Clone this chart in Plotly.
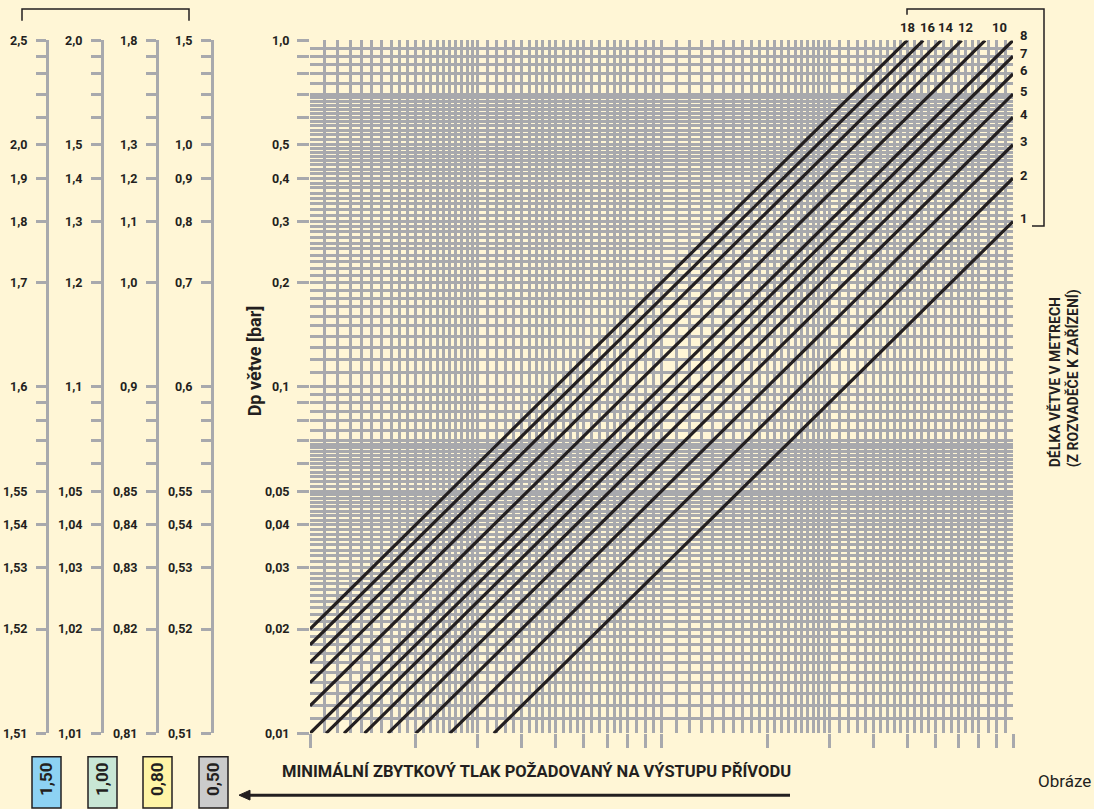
import math
import plotly.graph_objects as go

W, H = 1094, 809

# ---------------- data ----------------
lengths = [1, 2, 3, 4, 5, 6, 7, 8, 10, 12, 14, 16, 18]            # branch length [m]
dp_at_unit_flow = [0.0030, 0.0040, 0.0050, 0.0060, 0.0070, 0.0080, 0.0090,
                   0.0100, 0.0120, 0.0140, 0.0160, 0.0180, 0.0200]  # Dp [bar] at x = 1
slope = 1.0                                                          # log-log slope of the lines

y_tick_vals = [1.0, 0.9, 0.8, 0.7, 0.6, 0.5, 0.4, 0.3, 0.2, 0.1,
               0.09, 0.08, 0.07, 0.06, 0.05, 0.04, 0.03, 0.02, 0.01]
y_labeled = [1.0, 0.5, 0.4, 0.3, 0.2, 0.1, 0.05, 0.04, 0.03, 0.02, 0.01]
x_tick_vals = [1, 2, 3, 4, 5, 6, 7, 8, 9, 10, 20, 30, 40, 50, 60, 70, 80, 90, 100]

scale_offsets = [1.50, 1.00, 0.80, 0.50]        # minimal residual pressure scales [bar]
box_labels = ["1,50", "1,00", "0,80", "0,50"]
box_colors = ["#8dd2f3", "#c8e6d5", "#fff5a6", "#cbcbcb"]

title_bottom = "MINIMÁLNÍ ZBYTKOVÝ TLAK POŽADOVANÝ NA VÝSTUPU PŘÍVODU"
title_y = "Dp větve [bar]"
title_right1 = "DÉLKA VĚTVE V METRECH"
title_right2 = "(Z ROZVADĚČE K ZAŘÍZENÍ)"
caption = "Obráze"

# grid subdivision per decade: (start, stop, number of intervals)
y_grid_segments = [(1, 2, 10), (2, 3, 10), (3, 5, 16), (5, 7, 12), (7, 10, 6)]
x_grid_segments = [(1, 3, 20), (3, 5, 10), (5, 6, 4), (6, 8, 6), (8, 10, 4)]

# ---------------- style ----------------
BG = "#fff6d6"
GRID = "#a8a9ad"
INK = "#231f20"
FONT = "Roboto, Liberation Sans Narrow, Arial Narrow, sans-serif"
GW = 2.6


def px(x):
    return x / W


def py(y):
    return 1 - y / H


def grid_values(segments, decades):
    vals = set()
    for d in decades:
        for a, b, n in segments:
            for i in range(n + 1):
                vals.add(round(d * (a + (b - a) * i / n), 10))
    return sorted(vals)


def fmt(v, off=0.0):
    d = 1 if v >= 0.1 - 1e-9 else 2
    return f"{off + v:.{d}f}".replace(".", ",")


x_grid = grid_values(x_grid_segments, [1, 10])
y_grid = grid_values(y_grid_segments, [0.01, 0.1])

main_ticktext = [fmt(v) if v in y_labeled else "" for v in y_tick_vals]

fig = go.Figure()

# diagonal lines
for L, c in zip(lengths, dp_at_unit_flow):
    x0 = max(1.0, (0.01 / c) ** (1 / slope))
    x1 = min(100.0, (1.0 / c) ** (1 / slope))
    fig.add_trace(go.Scatter(
        x=[x0, x1], y=[c * x0 ** slope, c * x1 ** slope],
        mode="lines", line=dict(color=INK, width=3.2),
        showlegend=False, hoverinfo="skip", name=f"{L} m"))

# invisible traces to hold the four extra scales
for i in range(len(scale_offsets)):
    fig.add_trace(go.Scatter(x=[10], y=[0.1], yaxis=f"y{i + 2}", mode="markers",
                             marker=dict(opacity=0), showlegend=False, hoverinfo="skip"))

tickfont = dict(family=FONT, size=12.5, color=INK, weight="bold")

layout = dict(
    width=W, height=H, margin=dict(l=0, r=0, t=0, b=0),
    paper_bgcolor=BG, plot_bgcolor=BG, showlegend=False,
    xaxis=dict(
        type="log", range=[0, 2], domain=[px(310), px(1013)],
        tickmode="array", tickvals=x_tick_vals, showticklabels=False,
        ticks="outside", ticklen=14, tickwidth=3, tickcolor=GRID,
        showgrid=True, gridcolor=GRID, gridwidth=GW,
        minor=dict(tickmode="array", tickvals=x_grid, showgrid=True,
                   gridcolor=GRID, gridwidth=GW, ticks=""),
        zeroline=False, showline=False, fixedrange=True),
    yaxis=dict(
        type="log", range=[-2, 0], domain=[py(739), py(33)],
        tickmode="array", tickvals=y_tick_vals, ticktext=main_ticktext,
        ticks="outside", ticklen=12, tickwidth=3, tickcolor=GRID,
        ticklabelstandoff=5, tickfont=tickfont,
        showgrid=True, gridcolor=GRID, gridwidth=GW,
        minor=dict(tickmode="array", tickvals=y_grid, showgrid=True,
                   gridcolor=GRID, gridwidth=GW, ticks=""),
        zeroline=False, showline=False, fixedrange=True),
)

scale_x = [47, 102, 157, 212]
for i, (off, xp) in enumerate(zip(scale_offsets, scale_x)):
    layout[f"yaxis{i + 2}"] = dict(
        type="log", range=[-2, 0], overlaying="y", anchor="free", position=px(xp),
        side="left", tickmode="array", tickvals=y_tick_vals,
        ticktext=[fmt(v, off) if v in y_labeled else "" for v in y_tick_vals],
        ticks="outside", ticklen=10, tickwidth=3, tickcolor=GRID,
        ticklabelstandoff=6, tickfont=tickfont,
        showline=True, linecolor=GRID, linewidth=3,
        showgrid=False, zeroline=False, fixedrange=True)

fig.update_layout(**layout)

ann = []
# line labels
lab_font = dict(family=FONT, size=13, color=INK, weight="bold")
for L, c in zip(lengths, dp_at_unit_flow):
    x_end = min(100.0, (1.0 / c) ** (1 / slope))
    y_end = c * x_end ** slope
    if x_end >= 100.0 - 1e-9:
        ann.append(dict(x=2, y=math.log10(y_end), xref="x", yref="y", text=str(L),
                        showarrow=False, xanchor="left", yanchor="middle",
                        xshift=5, yshift=3 if y_end < 0.99 else 5, font=lab_font))
    else:
        ann.append(dict(x=math.log10(x_end), y=0, xref="x", yref="y", text=str(L),
                        showarrow=False, xanchor="center", yanchor="bottom",
                        xshift=14 if L == 10 else (0 if L == 18 else 4), yshift=3,
                        font=lab_font))

# axis titles
ann.append(dict(x=px(254), y=py(360), xref="paper", yref="paper", text=title_y,
                textangle=-90, showarrow=False, xanchor="center", yanchor="middle",
                font=dict(family=FONT, size=18, color=INK, weight="bold")))
ann.append(dict(x=px(1054), y=py(470), xref="paper", yref="paper", text=title_right1,
                textangle=-90, showarrow=False, xanchor="center", yanchor="bottom",
                font=dict(family=FONT, size=14, color=INK, weight="bold")))
ann.append(dict(x=px(1073), y=py(470), xref="paper", yref="paper", text=title_right2,
                textangle=-90, showarrow=False, xanchor="center", yanchor="bottom",
                font=dict(family=FONT, size=14, color=INK, weight="bold")))
ann.append(dict(x=px(280), y=py(778), xref="paper", yref="paper", text=title_bottom,
                showarrow=False, xanchor="left", yanchor="middle",
                font=dict(family=FONT, size=16.5, color=INK, weight="bold")))
ann.append(dict(x=px(1036), y=py(788), xref="paper", yref="paper", text=caption,
                showarrow=False, xanchor="left", yanchor="middle",
                font=dict(family=FONT, size=17, color=INK)))

shapes = []
box_x = [32, 88, 143, 199]
for lab, col, bx in zip(box_labels, box_colors, box_x):
    shapes.append(dict(type="rect", xref="paper", yref="paper",
                       x0=px(bx), x1=px(bx + 29), y0=py(815), y1=py(763),
                       fillcolor=col, line=dict(color=INK, width=1.5)))
    ann.append(dict(x=px(bx + 14.5), y=py(786), xref="paper", yref="paper", text=lab,
                    textangle=-90, showarrow=False, xanchor="center", yanchor="middle",
                    font=dict(family=FONT, size=17, color=INK, weight="bold")))

# arrow
shapes.append(dict(type="line", xref="paper", yref="paper",
                   x0=px(247), x1=px(790), y0=py(802), y1=py(802),
                   line=dict(color=INK, width=3)))
shapes.append(dict(type="path", xref="paper", yref="paper",
                   path=f"M {px(239)},{py(802)} L {px(250)},{py(797)} L {px(250)},{py(807)} Z",
                   fillcolor=INK, line=dict(color=INK, width=1)))

# brackets
shapes.append(dict(type="path", xref="paper", yref="paper",
                   path=f"M {px(22)},{py(13)} L {px(22)},{py(1)} L {px(189)},{py(1)} L {px(189)},{py(13)}",
                   line=dict(color=INK, width=1.5)))
shapes.append(dict(type="path", xref="paper", yref="paper",
                   path=(f"M {px(907)},{py(7)} L {px(907)},{py(1)} L {px(1044)},{py(1)} "
                         f"L {px(1044)},{py(222)} L {px(1032)},{py(222)}"),
                   line=dict(color=INK, width=1.5)))

fig.update_layout(annotations=ann, shapes=shapes)

fig.write_html(
    "out.html",
    config={"displayModeBar": False},
    post_script="document.body.style.margin='0';document.body.style.overflow='hidden';",
)
